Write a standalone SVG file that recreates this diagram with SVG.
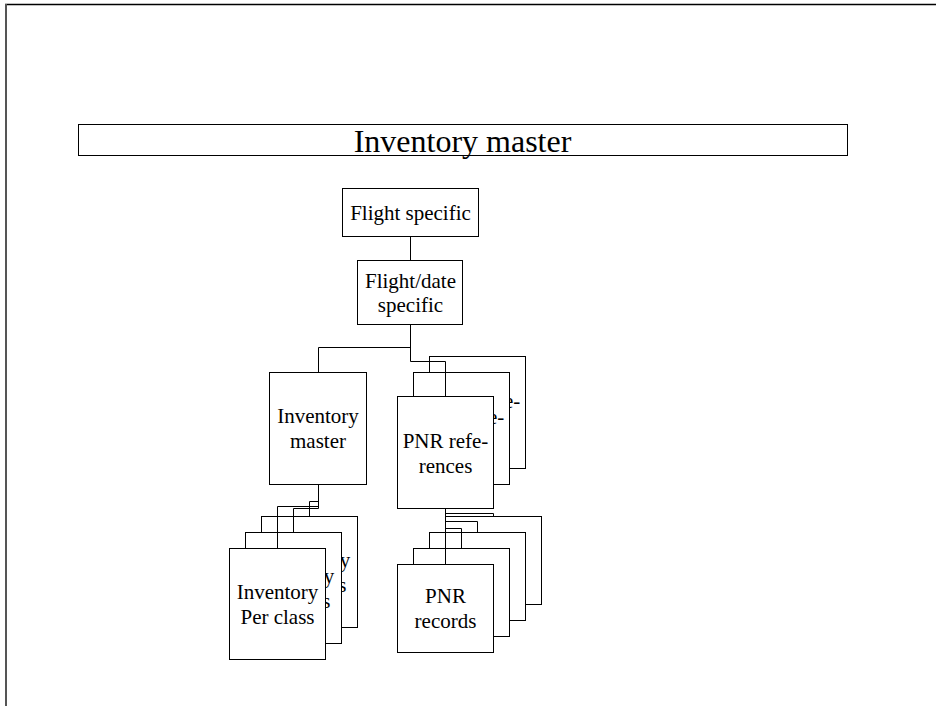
<svg xmlns="http://www.w3.org/2000/svg" width="936" height="706" viewBox="0 0 936 706">
<style>
.box{fill:#fff;stroke:#000;stroke-width:1}
.conn{fill:none;stroke:#000;stroke-width:1}
text{font-family:'Liberation Serif','Times New Roman',serif;font-size:21px;text-anchor:middle;fill:#000}
</style>
<rect width="936" height="706" fill="#fff"/>
<line x1="5" y1="4.5" x2="936" y2="4.5" stroke="#000" stroke-width="1.5"/>
<line x1="6" y1="4" x2="6" y2="706" stroke="#555" stroke-width="2"/>
<g id="title">
<rect class="box" x="78.5" y="124.5" width="769" height="31"/>
<text x="462.5" y="152" style="font-size:32px">Inventory master</text>
</g>
<g id="flight-specific">
<rect class="box" x="342.5" y="188.5" width="136" height="48"/>
<text x="410.5" y="220">Flight specific</text>
</g>
<g id="flight-date-specific">
<rect class="box" x="357.5" y="260.5" width="105" height="64"/>
<text x="410.5" y="288">Flight/date</text>
<text x="410.5" y="312">specific</text>
</g>
<g id="inventory-master">
<rect class="box" x="269.5" y="372.5" width="97" height="112"/>
<text x="318" y="423">Inventory</text>
<text x="318" y="448">master</text>
</g>
<g id="pnr-references">
<rect class="box" x="429.5" y="356.5" width="96" height="112"/>
<text x="477.5" y="408">PNR refe-</text>
<text x="477.5" y="433">rences</text>
<rect class="box" x="413.5" y="372.5" width="96" height="112"/>
<text x="461.5" y="424">PNR refe-</text>
<text x="461.5" y="449">rences</text>
<rect class="box" x="397.5" y="396.5" width="96" height="112"/>
<text x="445.5" y="448">PNR refe-</text>
<text x="445.5" y="473">rences</text>
</g>
<g id="inventory-per-class">
<rect class="box" x="261.5" y="516.5" width="96" height="111"/>
<text x="309.5" y="567">Inventory</text>
<text x="309.5" y="592">Per class</text>
<rect class="box" x="245.5" y="532.5" width="96" height="111"/>
<text x="293.5" y="583">Inventory</text>
<text x="293.5" y="608">Per class</text>
<rect class="box" x="229.5" y="548.5" width="96" height="111"/>
<text x="277.5" y="599">Inventory</text>
<text x="277.5" y="624">Per class</text>
</g>
<g id="pnr-records">
<rect class="box" x="445.5" y="516.5" width="96" height="88"/>
<text x="493.5" y="555">PNR</text>
<text x="493.5" y="580">records</text>
<rect class="box" x="429.5" y="532.5" width="96" height="88"/>
<text x="477.5" y="571">PNR</text>
<text x="477.5" y="596">records</text>
<rect class="box" x="413.5" y="548.5" width="96" height="88"/>
<text x="461.5" y="587">PNR</text>
<text x="461.5" y="612">records</text>
<rect class="box" x="397.5" y="564.5" width="96" height="88"/>
<text x="445.5" y="603">PNR</text>
<text x="445.5" y="628">records</text>
</g>
<g id="connectors">
<path class="conn" d="M410.5,236.5V260.5"/>
<path class="conn" d="M410.5,324.5V347.5H318.5V372.5"/>
<path class="conn" d="M410.5,324.5V361.5H445.5V396.5"/>
<path class="conn" d="M318.5,484.5V501.5H309.5V516.5"/>
<path class="conn" d="M318.5,484.5V508.5H293.5V532.5"/>
<path class="conn" d="M318.5,484.5V506.5H277.5V548.5"/>
<path class="conn" d="M445.5,508.5V564.5"/>
<path class="conn" d="M445.5,508.5V528.5H461.5V548.5"/>
<path class="conn" d="M445.5,508.5V521.5H477.5V532.5"/>
<path class="conn" d="M445.5,508.5V513.5H493.5V516.5"/>
</g>
</svg>
